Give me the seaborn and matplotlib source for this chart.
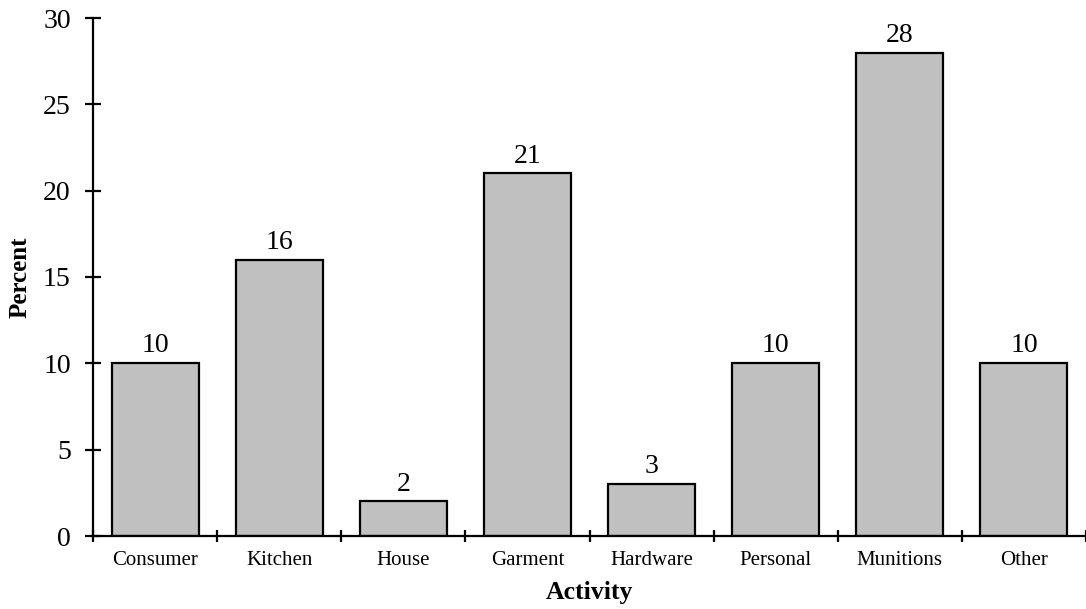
import matplotlib
matplotlib.use("Agg")
import matplotlib.pyplot as plt
import seaborn as sns
import pandas as pd
import numpy as np

# Share of activity by product category (percent)
categories = ["Consumer", "Kitchen", "House", "Garment", "Hardware",
              "Personal", "Munitions", "Other"]
percent = [10, 16, 2, 21, 3, 10, 28, 10]
y_ticks = [0, 5, 10, 15, 20, 25, 30]

sns.set_theme(style="white")
plt.rcParams["font.family"] = ["Liberation Serif", "DejaVu Serif"]

df = pd.DataFrame({"Activity": categories, "Percent": percent})

fig = plt.figure(figsize=(10.86, 6.09), dpi=100)
ax = fig.add_axes([93 / 1086, 1 - 536 / 609, 1 - 93 / 1086, (536 - 18) / 609])

sns.barplot(data=df, x="Activity", y="Percent", order=categories,
            color="#c0c0c0", saturation=1, width=0.7,
            edgecolor="black", linewidth=1.6, ax=ax)

for container in ax.containers:
    ax.bar_label(container, labels=[f"{v:g}" for v in percent],
                 padding=3.5, fontsize=20, color="black")

ax.set_xlim(-0.5, len(categories) - 0.5)
ax.set_ylim(0, 30)
ax.set_yticks(y_ticks)
ax.set_yticklabels([str(t) for t in y_ticks], fontsize=20)

# category labels at bar centres, tick marks at category boundaries
ax.set_xticks(range(len(categories)))
ax.set_xticklabels(categories, fontsize=15)
ax.set_xticks(np.arange(-0.5, len(categories)), minor=True)
ax.tick_params(axis="x", which="major", length=0, pad=10.5, colors="black")
ax.tick_params(axis="x", which="minor", direction="inout", length=9,
               width=1.6, color="black", bottom=True)
ax.tick_params(axis="y", which="major", direction="inout", length=12,
               width=1.6, pad=10, colors="black", left=True)

ax.set_xlabel("Activity", fontsize=18.5, fontweight="bold", labelpad=8.5,
              color="black")
ax.set_ylabel("Percent", fontsize=18, fontweight="bold", labelpad=8.5,
              color="black")

for side in ["top", "right"]:
    ax.spines[side].set_visible(False)
for side in ["left", "bottom"]:
    ax.spines[side].set_color("black")
    ax.spines[side].set_linewidth(1.6)

fig.savefig("out.png", dpi=100)
